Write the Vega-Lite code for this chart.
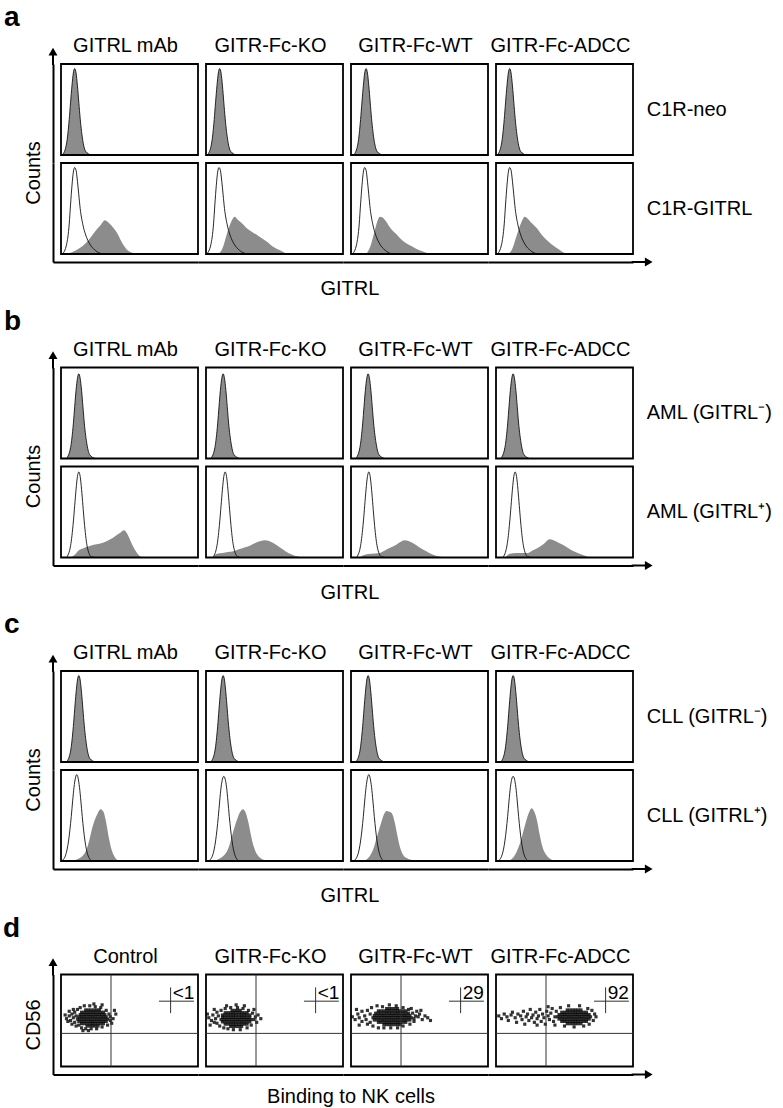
{
"$schema":"https://vega.github.io/schema/vega-lite/v6.json",
"padding":{"left":3,"top":4,"right":0,"bottom":0},
"spacing":7.5,
"config":{
 "font":"Liberation Sans",
 "view":{"stroke":null},
 "axis":{"ticks":false,"labels":false,"grid":false,"domainColor":"black","domainWidth":2,"minExtent":0,"titleFontSize":20,"titleFontWeight":"normal","titleColor":"black"},
 "header":{"labelFontSize":20,"labelColor":"black","titleFontSize":20,"titleFontWeight":"normal","titleColor":"black"},
 "title":{"fontSize":28,"fontWeight":"bold","anchor":"start","color":"black"}
},
"datasets":{
"A":[
{"r":1,"c":4,"s":"l","lab":"C1R-neo"},{"r":2,"c":4,"s":"l","lab":"C1R-GITRL"},{"r":2,"c":2,"s":"t","lab":"GITRL"},
{"r":1,"c":1,"x":1,"y":0},{"r":1,"c":1,"x":4,"y":12},{"r":1,"c":1,"x":6,"y":39},{"r":1,"c":1,"x":7,"y":58},{"r":1,"c":1,"x":8,"y":76},{"r":1,"c":1,"x":9,"y":90},{"r":1,"c":1,"x":10,"y":95},{"r":1,"c":1,"x":11,"y":90},{"r":1,"c":1,"x":12,"y":76},{"r":1,"c":1,"x":13,"y":58},{"r":1,"c":1,"x":14,"y":40},{"r":1,"c":1,"x":16,"y":15},{"r":1,"c":1,"x":18,"y":4},{"r":1,"c":1,"x":22,"y":0},
{"r":1,"c":2,"x":1,"y":0},{"r":1,"c":2,"x":4,"y":12},{"r":1,"c":2,"x":6,"y":39},{"r":1,"c":2,"x":7,"y":58},{"r":1,"c":2,"x":8,"y":76},{"r":1,"c":2,"x":9,"y":90},{"r":1,"c":2,"x":10,"y":95},{"r":1,"c":2,"x":11,"y":90},{"r":1,"c":2,"x":12,"y":76},{"r":1,"c":2,"x":13,"y":58},{"r":1,"c":2,"x":14,"y":40},{"r":1,"c":2,"x":16,"y":15},{"r":1,"c":2,"x":18,"y":4},{"r":1,"c":2,"x":22,"y":0},
{"r":1,"c":3,"x":2,"y":0},{"r":1,"c":3,"x":5,"y":12},{"r":1,"c":3,"x":7,"y":39},{"r":1,"c":3,"x":8,"y":58},{"r":1,"c":3,"x":9,"y":76},{"r":1,"c":3,"x":10,"y":90},{"r":1,"c":3,"x":11,"y":95},{"r":1,"c":3,"x":12,"y":90},{"r":1,"c":3,"x":13,"y":76},{"r":1,"c":3,"x":14,"y":58},{"r":1,"c":3,"x":15,"y":40},{"r":1,"c":3,"x":17,"y":15},{"r":1,"c":3,"x":19,"y":4},{"r":1,"c":3,"x":23,"y":0},
{"r":1,"c":4,"x":1,"y":0},{"r":1,"c":4,"x":4,"y":12},{"r":1,"c":4,"x":6,"y":39},{"r":1,"c":4,"x":7,"y":58},{"r":1,"c":4,"x":8,"y":76},{"r":1,"c":4,"x":9,"y":90},{"r":1,"c":4,"x":10,"y":95},{"r":1,"c":4,"x":11,"y":90},{"r":1,"c":4,"x":12,"y":76},{"r":1,"c":4,"x":13,"y":58},{"r":1,"c":4,"x":14,"y":40},{"r":1,"c":4,"x":16,"y":15},{"r":1,"c":4,"x":18,"y":4},{"r":1,"c":4,"x":22,"y":0},
{"r":2,"c":1,"s":"o","x":1,"y":0},{"r":2,"c":1,"s":"o","x":4,"y":10},{"r":2,"c":1,"s":"o","x":6,"y":33},{"r":2,"c":1,"s":"o","x":7,"y":55},{"r":2,"c":1,"s":"o","x":8,"y":75},{"r":2,"c":1,"s":"o","x":9,"y":90},{"r":2,"c":1,"s":"o","x":10,"y":95},{"r":2,"c":1,"s":"o","x":11,"y":92},{"r":2,"c":1,"s":"o","x":12,"y":80},{"r":2,"c":1,"s":"o","x":13,"y":65},{"r":2,"c":1,"s":"o","x":14,"y":50},{"r":2,"c":1,"s":"o","x":16,"y":32},{"r":2,"c":1,"s":"o","x":18,"y":21},{"r":2,"c":1,"s":"o","x":21,"y":11},{"r":2,"c":1,"s":"o","x":25,"y":4},{"r":2,"c":1,"s":"o","x":30,"y":0},
{"r":2,"c":2,"s":"o","x":0.5,"y":0},{"r":2,"c":2,"s":"o","x":3.5,"y":10},{"r":2,"c":2,"s":"o","x":5.5,"y":33},{"r":2,"c":2,"s":"o","x":6.5,"y":55},{"r":2,"c":2,"s":"o","x":7.5,"y":75},{"r":2,"c":2,"s":"o","x":8.5,"y":90},{"r":2,"c":2,"s":"o","x":9.5,"y":95},{"r":2,"c":2,"s":"o","x":10.5,"y":92},{"r":2,"c":2,"s":"o","x":11.5,"y":80},{"r":2,"c":2,"s":"o","x":12.5,"y":65},{"r":2,"c":2,"s":"o","x":13.5,"y":50},{"r":2,"c":2,"s":"o","x":15.5,"y":32},{"r":2,"c":2,"s":"o","x":17.5,"y":21},{"r":2,"c":2,"s":"o","x":20.5,"y":11},{"r":2,"c":2,"s":"o","x":24.5,"y":4},{"r":2,"c":2,"s":"o","x":29.5,"y":0},
{"r":2,"c":3,"s":"o","x":1,"y":0},{"r":2,"c":3,"s":"o","x":4,"y":10},{"r":2,"c":3,"s":"o","x":6,"y":33},{"r":2,"c":3,"s":"o","x":7,"y":55},{"r":2,"c":3,"s":"o","x":8,"y":75},{"r":2,"c":3,"s":"o","x":9,"y":90},{"r":2,"c":3,"s":"o","x":10,"y":95},{"r":2,"c":3,"s":"o","x":11,"y":92},{"r":2,"c":3,"s":"o","x":12,"y":80},{"r":2,"c":3,"s":"o","x":13,"y":65},{"r":2,"c":3,"s":"o","x":14,"y":50},{"r":2,"c":3,"s":"o","x":16,"y":32},{"r":2,"c":3,"s":"o","x":18,"y":21},{"r":2,"c":3,"s":"o","x":21,"y":11},{"r":2,"c":3,"s":"o","x":25,"y":4},{"r":2,"c":3,"s":"o","x":30,"y":0},
{"r":2,"c":4,"s":"o","x":1,"y":0},{"r":2,"c":4,"s":"o","x":4,"y":10},{"r":2,"c":4,"s":"o","x":6,"y":33},{"r":2,"c":4,"s":"o","x":7,"y":55},{"r":2,"c":4,"s":"o","x":8,"y":75},{"r":2,"c":4,"s":"o","x":9,"y":90},{"r":2,"c":4,"s":"o","x":10,"y":95},{"r":2,"c":4,"s":"o","x":11,"y":92},{"r":2,"c":4,"s":"o","x":12,"y":80},{"r":2,"c":4,"s":"o","x":13,"y":65},{"r":2,"c":4,"s":"o","x":14,"y":50},{"r":2,"c":4,"s":"o","x":16,"y":32},{"r":2,"c":4,"s":"o","x":18,"y":21},{"r":2,"c":4,"s":"o","x":21,"y":11},{"r":2,"c":4,"s":"o","x":25,"y":4},{"r":2,"c":4,"s":"o","x":30,"y":0},
{"r":2,"c":1,"s":"f","x":4,"y":0},{"r":2,"c":1,"s":"f","x":8,"y":2},{"r":2,"c":1,"s":"f","x":12,"y":5},{"r":2,"c":1,"s":"f","x":16,"y":9},{"r":2,"c":1,"s":"f","x":20,"y":15},{"r":2,"c":1,"s":"f","x":23.5,"y":22},{"r":2,"c":1,"s":"f","x":26,"y":27},{"r":2,"c":1,"s":"f","x":29,"y":32},{"r":2,"c":1,"s":"f","x":32,"y":37},{"r":2,"c":1,"s":"f","x":35,"y":34},{"r":2,"c":1,"s":"f","x":38,"y":29},{"r":2,"c":1,"s":"f","x":41,"y":23},{"r":2,"c":1,"s":"f","x":44,"y":14},{"r":2,"c":1,"s":"f","x":48,"y":5},{"r":2,"c":1,"s":"f","x":52,"y":1.5},{"r":2,"c":1,"s":"f","x":56,"y":0},
{"r":2,"c":2,"s":"f","x":9,"y":0},{"r":2,"c":2,"s":"f","x":12,"y":6},{"r":2,"c":2,"s":"f","x":15,"y":21},{"r":2,"c":2,"s":"f","x":18,"y":34},{"r":2,"c":2,"s":"f","x":21,"y":41},{"r":2,"c":2,"s":"f","x":23,"y":38},{"r":2,"c":2,"s":"f","x":26,"y":34},{"r":2,"c":2,"s":"f","x":30,"y":28},{"r":2,"c":2,"s":"f","x":34,"y":24},{"r":2,"c":2,"s":"f","x":38,"y":20},{"r":2,"c":2,"s":"f","x":44,"y":14},{"r":2,"c":2,"s":"f","x":49,"y":8},{"r":2,"c":2,"s":"f","x":54,"y":4},{"r":2,"c":2,"s":"f","x":59,"y":0},
{"r":2,"c":3,"s":"f","x":11,"y":0},{"r":2,"c":3,"s":"f","x":14,"y":8},{"r":2,"c":3,"s":"f","x":17,"y":24},{"r":2,"c":3,"s":"f","x":19,"y":35},{"r":2,"c":3,"s":"f","x":21,"y":41},{"r":2,"c":3,"s":"f","x":23,"y":40},{"r":2,"c":3,"s":"f","x":26,"y":35},{"r":2,"c":3,"s":"f","x":29,"y":28},{"r":2,"c":3,"s":"f","x":33,"y":22},{"r":2,"c":3,"s":"f","x":36,"y":17},{"r":2,"c":3,"s":"f","x":40,"y":12},{"r":2,"c":3,"s":"f","x":45,"y":8},{"r":2,"c":3,"s":"f","x":50,"y":4},{"r":2,"c":3,"s":"f","x":54,"y":2},{"r":2,"c":3,"s":"f","x":58,"y":0},
{"r":2,"c":4,"s":"f","x":9,"y":0},{"r":2,"c":4,"s":"f","x":12,"y":6},{"r":2,"c":4,"s":"f","x":15,"y":20},{"r":2,"c":4,"s":"f","x":18,"y":33},{"r":2,"c":4,"s":"f","x":21,"y":41},{"r":2,"c":4,"s":"f","x":23,"y":39},{"r":2,"c":4,"s":"f","x":26,"y":34},{"r":2,"c":4,"s":"f","x":30,"y":28},{"r":2,"c":4,"s":"f","x":34,"y":20},{"r":2,"c":4,"s":"f","x":38,"y":14},{"r":2,"c":4,"s":"f","x":42,"y":9},{"r":2,"c":4,"s":"f","x":46,"y":5},{"r":2,"c":4,"s":"f","x":49,"y":2},{"r":2,"c":4,"s":"f","x":52,"y":0}
],
"B":[
{"r":1,"c":4,"s":"l","lab":"AML (GITRL⁻)"},{"r":2,"c":4,"s":"l","lab":"AML (GITRL⁺)"},{"r":2,"c":2,"s":"t","lab":"GITRL"},
{"r":1,"c":1,"x":4,"y":0},{"r":1,"c":1,"x":7,"y":12},{"r":1,"c":1,"x":9,"y":38},{"r":1,"c":1,"x":10,"y":57},{"r":1,"c":1,"x":11,"y":75},{"r":1,"c":1,"x":12,"y":88},{"r":1,"c":1,"x":13,"y":93},{"r":1,"c":1,"x":14,"y":88},{"r":1,"c":1,"x":15,"y":75},{"r":1,"c":1,"x":16,"y":57},{"r":1,"c":1,"x":17,"y":39},{"r":1,"c":1,"x":19,"y":15},{"r":1,"c":1,"x":21,"y":4},{"r":1,"c":1,"x":25,"y":0},
{"r":1,"c":2,"x":3.5,"y":0},{"r":1,"c":2,"x":6.5,"y":12},{"r":1,"c":2,"x":8.5,"y":38},{"r":1,"c":2,"x":9.5,"y":57},{"r":1,"c":2,"x":10.5,"y":75},{"r":1,"c":2,"x":11.5,"y":88},{"r":1,"c":2,"x":12.5,"y":93},{"r":1,"c":2,"x":13.5,"y":88},{"r":1,"c":2,"x":14.5,"y":75},{"r":1,"c":2,"x":15.5,"y":57},{"r":1,"c":2,"x":16.5,"y":39},{"r":1,"c":2,"x":18.5,"y":15},{"r":1,"c":2,"x":20.5,"y":4},{"r":1,"c":2,"x":24.5,"y":0},
{"r":1,"c":3,"x":3.5,"y":0},{"r":1,"c":3,"x":6.5,"y":12},{"r":1,"c":3,"x":8.5,"y":38},{"r":1,"c":3,"x":9.5,"y":57},{"r":1,"c":3,"x":10.5,"y":75},{"r":1,"c":3,"x":11.5,"y":88},{"r":1,"c":3,"x":12.5,"y":93},{"r":1,"c":3,"x":13.5,"y":88},{"r":1,"c":3,"x":14.5,"y":75},{"r":1,"c":3,"x":15.5,"y":57},{"r":1,"c":3,"x":16.5,"y":39},{"r":1,"c":3,"x":18.5,"y":15},{"r":1,"c":3,"x":20.5,"y":4},{"r":1,"c":3,"x":24.5,"y":0},
{"r":1,"c":4,"x":3.5,"y":0},{"r":1,"c":4,"x":6.5,"y":12},{"r":1,"c":4,"x":8.5,"y":38},{"r":1,"c":4,"x":9.5,"y":57},{"r":1,"c":4,"x":10.5,"y":75},{"r":1,"c":4,"x":11.5,"y":88},{"r":1,"c":4,"x":12.5,"y":93},{"r":1,"c":4,"x":13.5,"y":88},{"r":1,"c":4,"x":14.5,"y":75},{"r":1,"c":4,"x":15.5,"y":57},{"r":1,"c":4,"x":16.5,"y":39},{"r":1,"c":4,"x":18.5,"y":15},{"r":1,"c":4,"x":20.5,"y":4},{"r":1,"c":4,"x":24.5,"y":0},
{"r":2,"c":1,"s":"o","x":4,"y":0},{"r":2,"c":1,"s":"o","x":7,"y":13},{"r":2,"c":1,"s":"o","x":9,"y":39},{"r":2,"c":1,"s":"o","x":10,"y":57},{"r":2,"c":1,"s":"o","x":11,"y":75},{"r":2,"c":1,"s":"o","x":12,"y":89},{"r":2,"c":1,"s":"o","x":13,"y":94},{"r":2,"c":1,"s":"o","x":14,"y":89},{"r":2,"c":1,"s":"o","x":15,"y":75},{"r":2,"c":1,"s":"o","x":16,"y":57},{"r":2,"c":1,"s":"o","x":17,"y":39},{"r":2,"c":1,"s":"o","x":19,"y":13},{"r":2,"c":1,"s":"o","x":22,"y":1},{"r":2,"c":1,"s":"o","x":25,"y":0},
{"r":2,"c":2,"s":"o","x":5,"y":0},{"r":2,"c":2,"s":"o","x":8,"y":13},{"r":2,"c":2,"s":"o","x":10,"y":39},{"r":2,"c":2,"s":"o","x":11,"y":57},{"r":2,"c":2,"s":"o","x":12,"y":75},{"r":2,"c":2,"s":"o","x":13,"y":89},{"r":2,"c":2,"s":"o","x":14,"y":94},{"r":2,"c":2,"s":"o","x":15,"y":89},{"r":2,"c":2,"s":"o","x":16,"y":75},{"r":2,"c":2,"s":"o","x":17,"y":57},{"r":2,"c":2,"s":"o","x":18,"y":39},{"r":2,"c":2,"s":"o","x":20,"y":13},{"r":2,"c":2,"s":"o","x":23,"y":1},{"r":2,"c":2,"s":"o","x":26,"y":0},
{"r":2,"c":3,"s":"o","x":4,"y":0},{"r":2,"c":3,"s":"o","x":7,"y":13},{"r":2,"c":3,"s":"o","x":9,"y":39},{"r":2,"c":3,"s":"o","x":10,"y":57},{"r":2,"c":3,"s":"o","x":11,"y":75},{"r":2,"c":3,"s":"o","x":12,"y":89},{"r":2,"c":3,"s":"o","x":13,"y":94},{"r":2,"c":3,"s":"o","x":14,"y":89},{"r":2,"c":3,"s":"o","x":15,"y":75},{"r":2,"c":3,"s":"o","x":16,"y":57},{"r":2,"c":3,"s":"o","x":17,"y":39},{"r":2,"c":3,"s":"o","x":19,"y":13},{"r":2,"c":3,"s":"o","x":22,"y":1},{"r":2,"c":3,"s":"o","x":25,"y":0},
{"r":2,"c":4,"s":"o","x":5,"y":0},{"r":2,"c":4,"s":"o","x":8,"y":13},{"r":2,"c":4,"s":"o","x":10,"y":39},{"r":2,"c":4,"s":"o","x":11,"y":57},{"r":2,"c":4,"s":"o","x":12,"y":75},{"r":2,"c":4,"s":"o","x":13,"y":89},{"r":2,"c":4,"s":"o","x":14,"y":94},{"r":2,"c":4,"s":"o","x":15,"y":89},{"r":2,"c":4,"s":"o","x":16,"y":75},{"r":2,"c":4,"s":"o","x":17,"y":57},{"r":2,"c":4,"s":"o","x":18,"y":39},{"r":2,"c":4,"s":"o","x":20,"y":13},{"r":2,"c":4,"s":"o","x":23,"y":1},{"r":2,"c":4,"s":"o","x":26,"y":0},
{"r":2,"c":1,"s":"f","x":7,"y":0},{"r":2,"c":1,"s":"f","x":10,"y":3},{"r":2,"c":1,"s":"f","x":13,"y":8},{"r":2,"c":1,"s":"f","x":16,"y":10},{"r":2,"c":1,"s":"f","x":20,"y":12},{"r":2,"c":1,"s":"f","x":24,"y":14},{"r":2,"c":1,"s":"f","x":28,"y":15},{"r":2,"c":1,"s":"f","x":32,"y":17},{"r":2,"c":1,"s":"f","x":36,"y":20},{"r":2,"c":1,"s":"f","x":40,"y":24},{"r":2,"c":1,"s":"f","x":43,"y":27},{"r":2,"c":1,"s":"f","x":46,"y":30},{"r":2,"c":1,"s":"f","x":48,"y":27},{"r":2,"c":1,"s":"f","x":50,"y":21},{"r":2,"c":1,"s":"f","x":52,"y":14},{"r":2,"c":1,"s":"f","x":55,"y":6},{"r":2,"c":1,"s":"f","x":58,"y":1},{"r":2,"c":1,"s":"f","x":60,"y":0},
{"r":2,"c":2,"s":"f","x":5,"y":0},{"r":2,"c":2,"s":"f","x":8,"y":4},{"r":2,"c":2,"s":"f","x":12,"y":5},{"r":2,"c":2,"s":"f","x":16,"y":6},{"r":2,"c":2,"s":"f","x":20,"y":7},{"r":2,"c":2,"s":"f","x":24,"y":9},{"r":2,"c":2,"s":"f","x":28,"y":11},{"r":2,"c":2,"s":"f","x":32,"y":13},{"r":2,"c":2,"s":"f","x":36,"y":16},{"r":2,"c":2,"s":"f","x":40,"y":18},{"r":2,"c":2,"s":"f","x":43,"y":19},{"r":2,"c":2,"s":"f","x":46,"y":18},{"r":2,"c":2,"s":"f","x":50,"y":15},{"r":2,"c":2,"s":"f","x":54,"y":11},{"r":2,"c":2,"s":"f","x":58,"y":7},{"r":2,"c":2,"s":"f","x":63,"y":3},{"r":2,"c":2,"s":"f","x":70,"y":0},
{"r":2,"c":3,"s":"f","x":6,"y":0},{"r":2,"c":3,"s":"f","x":10,"y":3},{"r":2,"c":3,"s":"f","x":15,"y":4},{"r":2,"c":3,"s":"f","x":21,"y":5},{"r":2,"c":3,"s":"f","x":25,"y":8},{"r":2,"c":3,"s":"f","x":29,"y":11},{"r":2,"c":3,"s":"f","x":33,"y":14},{"r":2,"c":3,"s":"f","x":36,"y":17},{"r":2,"c":3,"s":"f","x":39,"y":19},{"r":2,"c":3,"s":"f","x":42,"y":18},{"r":2,"c":3,"s":"f","x":46,"y":15},{"r":2,"c":3,"s":"f","x":50,"y":11},{"r":2,"c":3,"s":"f","x":55,"y":7},{"r":2,"c":3,"s":"f","x":60,"y":3},{"r":2,"c":3,"s":"f","x":64,"y":1},{"r":2,"c":3,"s":"f","x":69,"y":0},
{"r":2,"c":4,"s":"f","x":7,"y":0},{"r":2,"c":4,"s":"f","x":10,"y":4},{"r":2,"c":4,"s":"f","x":15,"y":5},{"r":2,"c":4,"s":"f","x":20,"y":5},{"r":2,"c":4,"s":"f","x":23,"y":5},{"r":2,"c":4,"s":"f","x":27,"y":8},{"r":2,"c":4,"s":"f","x":31,"y":11},{"r":2,"c":4,"s":"f","x":35,"y":15},{"r":2,"c":4,"s":"f","x":39,"y":20},{"r":2,"c":4,"s":"f","x":42,"y":19},{"r":2,"c":4,"s":"f","x":46,"y":16},{"r":2,"c":4,"s":"f","x":50,"y":13},{"r":2,"c":4,"s":"f","x":54,"y":9},{"r":2,"c":4,"s":"f","x":58,"y":6},{"r":2,"c":4,"s":"f","x":63,"y":3},{"r":2,"c":4,"s":"f","x":69,"y":0}
],
"C":[
{"r":1,"c":4,"s":"l","lab":"CLL (GITRL⁻)"},{"r":2,"c":4,"s":"l","lab":"CLL (GITRL⁺)"},{"r":2,"c":2,"s":"t","lab":"GITRL"},
{"r":1,"c":1,"x":4,"y":0},{"r":1,"c":1,"x":7,"y":12},{"r":1,"c":1,"x":9,"y":39},{"r":1,"c":1,"x":10,"y":58},{"r":1,"c":1,"x":11,"y":76},{"r":1,"c":1,"x":12,"y":90},{"r":1,"c":1,"x":13,"y":95},{"r":1,"c":1,"x":14,"y":90},{"r":1,"c":1,"x":15,"y":76},{"r":1,"c":1,"x":16,"y":58},{"r":1,"c":1,"x":17,"y":40},{"r":1,"c":1,"x":19,"y":15},{"r":1,"c":1,"x":21,"y":4},{"r":1,"c":1,"x":25,"y":0},
{"r":1,"c":2,"x":3.5,"y":0},{"r":1,"c":2,"x":6.5,"y":12},{"r":1,"c":2,"x":8.5,"y":39},{"r":1,"c":2,"x":9.5,"y":58},{"r":1,"c":2,"x":10.5,"y":76},{"r":1,"c":2,"x":11.5,"y":90},{"r":1,"c":2,"x":12.5,"y":95},{"r":1,"c":2,"x":13.5,"y":90},{"r":1,"c":2,"x":14.5,"y":76},{"r":1,"c":2,"x":15.5,"y":58},{"r":1,"c":2,"x":16.5,"y":40},{"r":1,"c":2,"x":18.5,"y":15},{"r":1,"c":2,"x":20.5,"y":4},{"r":1,"c":2,"x":24.5,"y":0},
{"r":1,"c":3,"x":3.5,"y":0},{"r":1,"c":3,"x":6.5,"y":12},{"r":1,"c":3,"x":8.5,"y":39},{"r":1,"c":3,"x":9.5,"y":58},{"r":1,"c":3,"x":10.5,"y":76},{"r":1,"c":3,"x":11.5,"y":90},{"r":1,"c":3,"x":12.5,"y":95},{"r":1,"c":3,"x":13.5,"y":90},{"r":1,"c":3,"x":14.5,"y":76},{"r":1,"c":3,"x":15.5,"y":58},{"r":1,"c":3,"x":16.5,"y":40},{"r":1,"c":3,"x":18.5,"y":15},{"r":1,"c":3,"x":20.5,"y":4},{"r":1,"c":3,"x":24.5,"y":0},
{"r":1,"c":4,"x":3.5,"y":0},{"r":1,"c":4,"x":6.5,"y":12},{"r":1,"c":4,"x":8.5,"y":39},{"r":1,"c":4,"x":9.5,"y":58},{"r":1,"c":4,"x":10.5,"y":76},{"r":1,"c":4,"x":11.5,"y":90},{"r":1,"c":4,"x":12.5,"y":95},{"r":1,"c":4,"x":13.5,"y":90},{"r":1,"c":4,"x":14.5,"y":76},{"r":1,"c":4,"x":15.5,"y":58},{"r":1,"c":4,"x":16.5,"y":40},{"r":1,"c":4,"x":18.5,"y":15},{"r":1,"c":4,"x":20.5,"y":4},{"r":1,"c":4,"x":24.5,"y":0},
{"r":2,"c":1,"s":"o","x":0.5,"y":0},{"r":2,"c":1,"s":"o","x":3.5,"y":7},{"r":2,"c":1,"s":"o","x":5.5,"y":22},{"r":2,"c":1,"s":"o","x":7.5,"y":49},{"r":2,"c":1,"s":"o","x":8.5,"y":66},{"r":2,"c":1,"s":"o","x":9.5,"y":81},{"r":2,"c":1,"s":"o","x":10.5,"y":91},{"r":2,"c":1,"s":"o","x":11.5,"y":95},{"r":2,"c":1,"s":"o","x":12.5,"y":91},{"r":2,"c":1,"s":"o","x":13.5,"y":81},{"r":2,"c":1,"s":"o","x":14.5,"y":66},{"r":2,"c":1,"s":"o","x":15.5,"y":49},{"r":2,"c":1,"s":"o","x":17.5,"y":22},{"r":2,"c":1,"s":"o","x":19.5,"y":7},{"r":2,"c":1,"s":"o","x":22.5,"y":0},
{"r":2,"c":2,"s":"o","x":2,"y":0},{"r":2,"c":2,"s":"o","x":5,"y":7},{"r":2,"c":2,"s":"o","x":7,"y":22},{"r":2,"c":2,"s":"o","x":9,"y":49},{"r":2,"c":2,"s":"o","x":10,"y":66},{"r":2,"c":2,"s":"o","x":11,"y":81},{"r":2,"c":2,"s":"o","x":12,"y":90},{"r":2,"c":2,"s":"o","x":13,"y":93},{"r":2,"c":2,"s":"o","x":14,"y":90},{"r":2,"c":2,"s":"o","x":15,"y":81},{"r":2,"c":2,"s":"o","x":16,"y":66},{"r":2,"c":2,"s":"o","x":17,"y":49},{"r":2,"c":2,"s":"o","x":19,"y":22},{"r":2,"c":2,"s":"o","x":21,"y":7},{"r":2,"c":2,"s":"o","x":24,"y":0},
{"r":2,"c":3,"s":"o","x":2,"y":0},{"r":2,"c":3,"s":"o","x":5,"y":7},{"r":2,"c":3,"s":"o","x":7,"y":22},{"r":2,"c":3,"s":"o","x":9,"y":49},{"r":2,"c":3,"s":"o","x":10,"y":66},{"r":2,"c":3,"s":"o","x":11,"y":81},{"r":2,"c":3,"s":"o","x":12,"y":91},{"r":2,"c":3,"s":"o","x":13,"y":95},{"r":2,"c":3,"s":"o","x":14,"y":91},{"r":2,"c":3,"s":"o","x":15,"y":81},{"r":2,"c":3,"s":"o","x":16,"y":66},{"r":2,"c":3,"s":"o","x":17,"y":49},{"r":2,"c":3,"s":"o","x":19,"y":22},{"r":2,"c":3,"s":"o","x":21,"y":7},{"r":2,"c":3,"s":"o","x":24,"y":0},
{"r":2,"c":4,"s":"o","x":1.5,"y":0},{"r":2,"c":4,"s":"o","x":4.5,"y":7},{"r":2,"c":4,"s":"o","x":6.5,"y":22},{"r":2,"c":4,"s":"o","x":8.5,"y":49},{"r":2,"c":4,"s":"o","x":9.5,"y":66},{"r":2,"c":4,"s":"o","x":10.5,"y":81},{"r":2,"c":4,"s":"o","x":11.5,"y":90},{"r":2,"c":4,"s":"o","x":12.5,"y":93},{"r":2,"c":4,"s":"o","x":13.5,"y":90},{"r":2,"c":4,"s":"o","x":14.5,"y":81},{"r":2,"c":4,"s":"o","x":15.5,"y":66},{"r":2,"c":4,"s":"o","x":16.5,"y":49},{"r":2,"c":4,"s":"o","x":18.5,"y":22},{"r":2,"c":4,"s":"o","x":20.5,"y":7},{"r":2,"c":4,"s":"o","x":23.5,"y":0},
{"r":2,"c":1,"s":"f","x":8,"y":0},{"r":2,"c":1,"s":"f","x":12,"y":2},{"r":2,"c":1,"s":"f","x":16,"y":6},{"r":2,"c":1,"s":"f","x":19,"y":14},{"r":2,"c":1,"s":"f","x":21,"y":25},{"r":2,"c":1,"s":"f","x":23.5,"y":40},{"r":2,"c":1,"s":"f","x":26,"y":50},{"r":2,"c":1,"s":"f","x":29,"y":57},{"r":2,"c":1,"s":"f","x":31,"y":54},{"r":2,"c":1,"s":"f","x":33,"y":42},{"r":2,"c":1,"s":"f","x":35,"y":25},{"r":2,"c":1,"s":"f","x":37,"y":12},{"r":2,"c":1,"s":"f","x":39,"y":5},{"r":2,"c":1,"s":"f","x":42,"y":0},
{"r":2,"c":2,"s":"f","x":5,"y":0},{"r":2,"c":2,"s":"f","x":9,"y":2},{"r":2,"c":2,"s":"f","x":13,"y":6},{"r":2,"c":2,"s":"f","x":16,"y":13},{"r":2,"c":2,"s":"f","x":18,"y":22},{"r":2,"c":2,"s":"f","x":20,"y":33},{"r":2,"c":2,"s":"f","x":23,"y":47},{"r":2,"c":2,"s":"f","x":25,"y":54},{"r":2,"c":2,"s":"f","x":27,"y":57},{"r":2,"c":2,"s":"f","x":29,"y":53},{"r":2,"c":2,"s":"f","x":31,"y":42},{"r":2,"c":2,"s":"f","x":33,"y":27},{"r":2,"c":2,"s":"f","x":35,"y":15},{"r":2,"c":2,"s":"f","x":37,"y":8},{"r":2,"c":2,"s":"f","x":40,"y":3},{"r":2,"c":2,"s":"f","x":43,"y":1},{"r":2,"c":2,"s":"f","x":47,"y":0},
{"r":2,"c":3,"s":"f","x":9,"y":0},{"r":2,"c":3,"s":"f","x":13,"y":4},{"r":2,"c":3,"s":"f","x":16,"y":12},{"r":2,"c":3,"s":"f","x":19,"y":27},{"r":2,"c":3,"s":"f","x":22,"y":42},{"r":2,"c":3,"s":"f","x":24,"y":51},{"r":2,"c":3,"s":"f","x":26,"y":55},{"r":2,"c":3,"s":"f","x":28,"y":54},{"r":2,"c":3,"s":"f","x":30,"y":52},{"r":2,"c":3,"s":"f","x":32,"y":42},{"r":2,"c":3,"s":"f","x":34,"y":27},{"r":2,"c":3,"s":"f","x":36,"y":14},{"r":2,"c":3,"s":"f","x":38,"y":7},{"r":2,"c":3,"s":"f","x":41,"y":3},{"r":2,"c":3,"s":"f","x":45,"y":1},{"r":2,"c":3,"s":"f","x":50,"y":0},
{"r":2,"c":4,"s":"f","x":9,"y":0},{"r":2,"c":4,"s":"f","x":12,"y":3},{"r":2,"c":4,"s":"f","x":15,"y":10},{"r":2,"c":4,"s":"f","x":18,"y":22},{"r":2,"c":4,"s":"f","x":20,"y":33},{"r":2,"c":4,"s":"f","x":22,"y":44},{"r":2,"c":4,"s":"f","x":24,"y":53},{"r":2,"c":4,"s":"f","x":26,"y":58},{"r":2,"c":4,"s":"f","x":28,"y":54},{"r":2,"c":4,"s":"f","x":30,"y":44},{"r":2,"c":4,"s":"f","x":32,"y":28},{"r":2,"c":4,"s":"f","x":34,"y":15},{"r":2,"c":4,"s":"f","x":37,"y":6},{"r":2,"c":4,"s":"f","x":40,"y":2},{"r":2,"c":4,"s":"f","x":43,"y":0}
],
"D":[
{"c":1,"lbl":"<1"},{"c":2,"lbl":"<1"},{"c":3,"lbl":"29"},{"c":4,"lbl":"92"},
{"c":1,"x":19,"y":44},{"c":1,"x":21,"y":44},{"c":1,"x":23,"y":44},{"c":1,"x":25,"y":44},{"c":1,"x":27,"y":44},
{"c":1,"x":15,"y":46.5},{"c":1,"x":17,"y":46.5},{"c":1,"x":19,"y":46.5},{"c":1,"x":21,"y":46.5},{"c":1,"x":23,"y":46.5},{"c":1,"x":25,"y":46.5},{"c":1,"x":27,"y":46.5},{"c":1,"x":29,"y":46.5},{"c":1,"x":31,"y":46.5},
{"c":1,"x":13,"y":49},{"c":1,"x":15,"y":49},{"c":1,"x":17,"y":49},{"c":1,"x":19,"y":49},{"c":1,"x":21,"y":49},{"c":1,"x":23,"y":49},{"c":1,"x":25,"y":49},{"c":1,"x":27,"y":49},{"c":1,"x":29,"y":49},{"c":1,"x":31,"y":49},{"c":1,"x":33,"y":49},
{"c":1,"x":12,"y":51.5},{"c":1,"x":14,"y":51.5},{"c":1,"x":16,"y":51.5},{"c":1,"x":18,"y":51.5},{"c":1,"x":20,"y":51.5},{"c":1,"x":22,"y":51.5},{"c":1,"x":24,"y":51.5},{"c":1,"x":26,"y":51.5},{"c":1,"x":28,"y":51.5},{"c":1,"x":30,"y":51.5},{"c":1,"x":32,"y":51.5},{"c":1,"x":34,"y":51.5},
{"c":1,"x":13,"y":54},{"c":1,"x":15,"y":54},{"c":1,"x":17,"y":54},{"c":1,"x":19,"y":54},{"c":1,"x":21,"y":54},{"c":1,"x":23,"y":54},{"c":1,"x":25,"y":54},{"c":1,"x":27,"y":54},{"c":1,"x":29,"y":54},{"c":1,"x":31,"y":54},{"c":1,"x":33,"y":54},
{"c":1,"x":14,"y":56.5},{"c":1,"x":16,"y":56.5},{"c":1,"x":18,"y":56.5},{"c":1,"x":20,"y":56.5},{"c":1,"x":22,"y":56.5},{"c":1,"x":24,"y":56.5},{"c":1,"x":26,"y":56.5},{"c":1,"x":28,"y":56.5},{"c":1,"x":30,"y":56.5},{"c":1,"x":32,"y":56.5},
{"c":1,"x":15,"y":59},{"c":1,"x":17,"y":59},{"c":1,"x":19,"y":59},{"c":1,"x":21,"y":59},{"c":1,"x":23,"y":59},{"c":1,"x":25,"y":59},{"c":1,"x":27,"y":59},{"c":1,"x":29,"y":59},{"c":1,"x":31,"y":59},
{"c":1,"x":18,"y":61.5},{"c":1,"x":20,"y":61.5},{"c":1,"x":22,"y":61.5},{"c":1,"x":24,"y":61.5},{"c":1,"x":26,"y":61.5},{"c":1,"x":28,"y":61.5},
{"c":1,"x":4,"y":52},{"c":1,"x":6,"y":55},{"c":1,"x":7,"y":50},{"c":1,"x":8,"y":57},{"c":1,"x":9,"y":53},{"c":1,"x":10,"y":48},{"c":1,"x":10,"y":59},{"c":1,"x":11,"y":55},{"c":1,"x":12,"y":62},{"c":1,"x":13,"y":45},{"c":1,"x":14,"y":64},{"c":1,"x":11,"y":44},{"c":1,"x":15,"y":42},{"c":1,"x":17,"y":66},{"c":1,"x":18,"y":41},{"c":1,"x":21,"y":66},{"c":1,"x":22,"y":41},{"c":1,"x":25,"y":65},{"c":1,"x":26,"y":41},{"c":1,"x":29,"y":64},{"c":1,"x":30,"y":43},{"c":1,"x":33,"y":61},{"c":1,"x":34,"y":45},{"c":1,"x":35,"y":57},{"c":1,"x":36,"y":50},{"c":1,"x":36,"y":54},{"c":1,"x":38,"y":52},{"c":1,"x":40,"y":57},{"c":1,"x":6,"y":60},{"c":1,"x":8,"y":46},{"c":1,"x":30,"y":67},{"c":1,"x":20,"y":39},{"c":1,"x":3,"y":56},{"c":1,"x":5,"y":49},{"c":1,"x":9,"y":62},{"c":1,"x":16,"y":39},{"c":1,"x":24,"y":68},{"c":1,"x":37,"y":47},{"c":1,"x":39,"y":61},
{"c":2,"x":18,"y":43.5},{"c":2,"x":20,"y":43.5},{"c":2,"x":22,"y":43.5},{"c":2,"x":24,"y":43.5},{"c":2,"x":26,"y":43.5},
{"c":2,"x":14,"y":46},{"c":2,"x":16,"y":46},{"c":2,"x":18,"y":46},{"c":2,"x":20,"y":46},{"c":2,"x":22,"y":46},{"c":2,"x":24,"y":46},{"c":2,"x":26,"y":46},{"c":2,"x":28,"y":46},{"c":2,"x":30,"y":46},
{"c":2,"x":12,"y":48.5},{"c":2,"x":14,"y":48.5},{"c":2,"x":16,"y":48.5},{"c":2,"x":18,"y":48.5},{"c":2,"x":20,"y":48.5},{"c":2,"x":22,"y":48.5},{"c":2,"x":24,"y":48.5},{"c":2,"x":26,"y":48.5},{"c":2,"x":28,"y":48.5},{"c":2,"x":30,"y":48.5},{"c":2,"x":32,"y":48.5},
{"c":2,"x":11,"y":51},{"c":2,"x":13,"y":51},{"c":2,"x":15,"y":51},{"c":2,"x":17,"y":51},{"c":2,"x":19,"y":51},{"c":2,"x":21,"y":51},{"c":2,"x":23,"y":51},{"c":2,"x":25,"y":51},{"c":2,"x":27,"y":51},{"c":2,"x":29,"y":51},{"c":2,"x":31,"y":51},{"c":2,"x":33,"y":51},
{"c":2,"x":12,"y":53.5},{"c":2,"x":14,"y":53.5},{"c":2,"x":16,"y":53.5},{"c":2,"x":18,"y":53.5},{"c":2,"x":20,"y":53.5},{"c":2,"x":22,"y":53.5},{"c":2,"x":24,"y":53.5},{"c":2,"x":26,"y":53.5},{"c":2,"x":28,"y":53.5},{"c":2,"x":30,"y":53.5},{"c":2,"x":32,"y":53.5},
{"c":2,"x":12,"y":56},{"c":2,"x":14,"y":56},{"c":2,"x":16,"y":56},{"c":2,"x":18,"y":56},{"c":2,"x":20,"y":56},{"c":2,"x":22,"y":56},{"c":2,"x":24,"y":56},{"c":2,"x":26,"y":56},{"c":2,"x":28,"y":56},{"c":2,"x":30,"y":56},{"c":2,"x":32,"y":56},
{"c":2,"x":14,"y":58.5},{"c":2,"x":16,"y":58.5},{"c":2,"x":18,"y":58.5},{"c":2,"x":20,"y":58.5},{"c":2,"x":22,"y":58.5},{"c":2,"x":24,"y":58.5},{"c":2,"x":26,"y":58.5},{"c":2,"x":28,"y":58.5},{"c":2,"x":30,"y":58.5},
{"c":2,"x":19,"y":61},{"c":2,"x":21,"y":61},{"c":2,"x":23,"y":61},{"c":2,"x":25,"y":61},
{"c":2,"x":2,"y":53},{"c":2,"x":4,"y":50},{"c":2,"x":5,"y":56},{"c":2,"x":7,"y":52},{"c":2,"x":8,"y":47},{"c":2,"x":8,"y":59},{"c":2,"x":10,"y":44},{"c":2,"x":9,"y":55},{"c":2,"x":11,"y":61},{"c":2,"x":13,"y":42},{"c":2,"x":14,"y":63},{"c":2,"x":16,"y":41},{"c":2,"x":18,"y":64},{"c":2,"x":20,"y":40},{"c":2,"x":23,"y":64},{"c":2,"x":25,"y":40},{"c":2,"x":27,"y":63},{"c":2,"x":30,"y":42},{"c":2,"x":31,"y":61},{"c":2,"x":33,"y":45},{"c":2,"x":34,"y":58},{"c":2,"x":35,"y":51},{"c":2,"x":36,"y":54},{"c":2,"x":37,"y":48},{"c":2,"x":6,"y":62},{"c":2,"x":3,"y":45},{"c":2,"x":28,"y":66},{"c":2,"x":15,"y":66},{"c":2,"x":38,"y":56},{"c":2,"x":1,"y":57},{"c":2,"x":6,"y":48},{"c":2,"x":22,"y":67},{"c":2,"x":35,"y":62},{"c":2,"x":40,"y":52},
{"c":3,"x":24,"y":45.5},{"c":3,"x":26,"y":45.5},{"c":3,"x":28,"y":45.5},{"c":3,"x":30,"y":45.5},{"c":3,"x":32,"y":45.5},{"c":3,"x":34,"y":45.5},{"c":3,"x":36,"y":45.5},
{"c":3,"x":20,"y":48},{"c":3,"x":22,"y":48},{"c":3,"x":24,"y":48},{"c":3,"x":26,"y":48},{"c":3,"x":28,"y":48},{"c":3,"x":30,"y":48},{"c":3,"x":32,"y":48},{"c":3,"x":34,"y":48},{"c":3,"x":36,"y":48},{"c":3,"x":38,"y":48},{"c":3,"x":40,"y":48},
{"c":3,"x":17,"y":50.5},{"c":3,"x":19,"y":50.5},{"c":3,"x":21,"y":50.5},{"c":3,"x":23,"y":50.5},{"c":3,"x":25,"y":50.5},{"c":3,"x":27,"y":50.5},{"c":3,"x":29,"y":50.5},{"c":3,"x":31,"y":50.5},{"c":3,"x":33,"y":50.5},{"c":3,"x":35,"y":50.5},{"c":3,"x":37,"y":50.5},{"c":3,"x":39,"y":50.5},{"c":3,"x":41,"y":50.5},{"c":3,"x":43,"y":50.5},
{"c":3,"x":16,"y":53},{"c":3,"x":18,"y":53},{"c":3,"x":20,"y":53},{"c":3,"x":22,"y":53},{"c":3,"x":24,"y":53},{"c":3,"x":26,"y":53},{"c":3,"x":28,"y":53},{"c":3,"x":30,"y":53},{"c":3,"x":32,"y":53},{"c":3,"x":34,"y":53},{"c":3,"x":36,"y":53},{"c":3,"x":38,"y":53},{"c":3,"x":40,"y":53},{"c":3,"x":42,"y":53},{"c":3,"x":44,"y":53},
{"c":3,"x":17,"y":55.5},{"c":3,"x":19,"y":55.5},{"c":3,"x":21,"y":55.5},{"c":3,"x":23,"y":55.5},{"c":3,"x":25,"y":55.5},{"c":3,"x":27,"y":55.5},{"c":3,"x":29,"y":55.5},{"c":3,"x":31,"y":55.5},{"c":3,"x":33,"y":55.5},{"c":3,"x":35,"y":55.5},{"c":3,"x":37,"y":55.5},{"c":3,"x":39,"y":55.5},{"c":3,"x":41,"y":55.5},{"c":3,"x":43,"y":55.5},
{"c":3,"x":18,"y":58},{"c":3,"x":20,"y":58},{"c":3,"x":22,"y":58},{"c":3,"x":24,"y":58},{"c":3,"x":26,"y":58},{"c":3,"x":28,"y":58},{"c":3,"x":30,"y":58},{"c":3,"x":32,"y":58},{"c":3,"x":34,"y":58},{"c":3,"x":36,"y":58},{"c":3,"x":38,"y":58},{"c":3,"x":40,"y":58},{"c":3,"x":42,"y":58},
{"c":3,"x":20,"y":60.5},{"c":3,"x":22,"y":60.5},{"c":3,"x":24,"y":60.5},{"c":3,"x":26,"y":60.5},{"c":3,"x":28,"y":60.5},{"c":3,"x":30,"y":60.5},{"c":3,"x":32,"y":60.5},{"c":3,"x":34,"y":60.5},{"c":3,"x":36,"y":60.5},{"c":3,"x":38,"y":60.5},{"c":3,"x":40,"y":60.5},
{"c":3,"x":26,"y":63},{"c":3,"x":28,"y":63},{"c":3,"x":30,"y":63},{"c":3,"x":32,"y":63},{"c":3,"x":34,"y":63},
{"c":3,"x":1,"y":54},{"c":3,"x":3,"y":51},{"c":3,"x":5,"y":57},{"c":3,"x":6,"y":53},{"c":3,"x":8,"y":49},{"c":3,"x":8,"y":60},{"c":3,"x":10,"y":55},{"c":3,"x":11,"y":51},{"c":3,"x":12,"y":46},{"c":3,"x":12,"y":61},{"c":3,"x":14,"y":57},{"c":3,"x":14,"y":48},{"c":3,"x":15,"y":64},{"c":3,"x":16,"y":44},{"c":3,"x":19,"y":66},{"c":3,"x":20,"y":42},{"c":3,"x":23,"y":65},{"c":3,"x":24,"y":42},{"c":3,"x":28,"y":67},{"c":3,"x":29,"y":42},{"c":3,"x":33,"y":66},{"c":3,"x":34,"y":42},{"c":3,"x":38,"y":64},{"c":3,"x":38,"y":44},{"c":3,"x":42,"y":62},{"c":3,"x":43,"y":46},{"c":3,"x":45,"y":58},{"c":3,"x":46,"y":52},{"c":3,"x":47,"y":55},{"c":3,"x":46,"y":49},{"c":3,"x":48,"y":60},{"c":3,"x":49,"y":54},{"c":3,"x":50,"y":57},{"c":3,"x":52,"y":51},{"c":3,"x":54,"y":55},{"c":3,"x":56,"y":53},{"c":3,"x":44,"y":63},{"c":3,"x":6,"y":45},{"c":3,"x":58,"y":50},{"c":3,"x":51,"y":61},{"c":3,"x":4,"y":62},
{"c":4,"x":52,"y":46.5},{"c":4,"x":54,"y":46.5},{"c":4,"x":56,"y":46.5},{"c":4,"x":58,"y":46.5},{"c":4,"x":60,"y":46.5},{"c":4,"x":62,"y":46.5},
{"c":4,"x":48,"y":49},{"c":4,"x":50,"y":49},{"c":4,"x":52,"y":49},{"c":4,"x":54,"y":49},{"c":4,"x":56,"y":49},{"c":4,"x":58,"y":49},{"c":4,"x":60,"y":49},{"c":4,"x":62,"y":49},{"c":4,"x":64,"y":49},{"c":4,"x":66,"y":49},
{"c":4,"x":46,"y":51.5},{"c":4,"x":48,"y":51.5},{"c":4,"x":50,"y":51.5},{"c":4,"x":52,"y":51.5},{"c":4,"x":54,"y":51.5},{"c":4,"x":56,"y":51.5},{"c":4,"x":58,"y":51.5},{"c":4,"x":60,"y":51.5},{"c":4,"x":62,"y":51.5},{"c":4,"x":64,"y":51.5},{"c":4,"x":66,"y":51.5},{"c":4,"x":68,"y":51.5},
{"c":4,"x":45,"y":54},{"c":4,"x":47,"y":54},{"c":4,"x":49,"y":54},{"c":4,"x":51,"y":54},{"c":4,"x":53,"y":54},{"c":4,"x":55,"y":54},{"c":4,"x":57,"y":54},{"c":4,"x":59,"y":54},{"c":4,"x":61,"y":54},{"c":4,"x":63,"y":54},{"c":4,"x":65,"y":54},{"c":4,"x":67,"y":54},{"c":4,"x":69,"y":54},
{"c":4,"x":46,"y":56.5},{"c":4,"x":48,"y":56.5},{"c":4,"x":50,"y":56.5},{"c":4,"x":52,"y":56.5},{"c":4,"x":54,"y":56.5},{"c":4,"x":56,"y":56.5},{"c":4,"x":58,"y":56.5},{"c":4,"x":60,"y":56.5},{"c":4,"x":62,"y":56.5},{"c":4,"x":64,"y":56.5},{"c":4,"x":66,"y":56.5},{"c":4,"x":68,"y":56.5},
{"c":4,"x":48,"y":59},{"c":4,"x":50,"y":59},{"c":4,"x":52,"y":59},{"c":4,"x":54,"y":59},{"c":4,"x":56,"y":59},{"c":4,"x":58,"y":59},{"c":4,"x":60,"y":59},{"c":4,"x":62,"y":59},{"c":4,"x":64,"y":59},{"c":4,"x":66,"y":59},
{"c":4,"x":52,"y":61.5},{"c":4,"x":54,"y":61.5},{"c":4,"x":56,"y":61.5},{"c":4,"x":58,"y":61.5},{"c":4,"x":60,"y":61.5},{"c":4,"x":62,"y":61.5},
{"c":4,"x":2,"y":55},{"c":4,"x":4,"y":52},{"c":4,"x":6,"y":57},{"c":4,"x":8,"y":54},{"c":4,"x":9,"y":50},{"c":4,"x":11,"y":56},{"c":4,"x":12,"y":59},{"c":4,"x":14,"y":53},{"c":4,"x":15,"y":48},{"c":4,"x":16,"y":57},{"c":4,"x":18,"y":55},{"c":4,"x":19,"y":51},{"c":4,"x":20,"y":60},{"c":4,"x":21,"y":46},{"c":4,"x":22,"y":54},{"c":4,"x":23,"y":57},{"c":4,"x":24,"y":50},{"c":4,"x":25,"y":62},{"c":4,"x":26,"y":53},{"c":4,"x":27,"y":56},{"c":4,"x":28,"y":48},{"c":4,"x":29,"y":59},{"c":4,"x":30,"y":52},{"c":4,"x":31,"y":55},{"c":4,"x":32,"y":62},{"c":4,"x":33,"y":49},{"c":4,"x":34,"y":57},{"c":4,"x":35,"y":53},{"c":4,"x":36,"y":46},{"c":4,"x":37,"y":60},{"c":4,"x":38,"y":55},{"c":4,"x":39,"y":51},{"c":4,"x":40,"y":58},{"c":4,"x":41,"y":63},{"c":4,"x":42,"y":49},{"c":4,"x":43,"y":54},{"c":4,"x":43,"y":45},{"c":4,"x":44,"y":60},{"c":4,"x":47,"y":64},{"c":4,"x":50,"y":44},{"c":4,"x":53,"y":66},{"c":4,"x":57,"y":43},{"c":4,"x":61,"y":66},{"c":4,"x":64,"y":44},{"c":4,"x":67,"y":63},{"c":4,"x":71,"y":50},{"c":4,"x":72,"y":57},{"c":4,"x":73,"y":54},{"c":4,"x":70,"y":61},{"c":4,"x":30,"y":45},{"c":4,"x":38,"y":65},{"c":4,"x":68,"y":46}
]
},
"vconcat":[
{
 "title":{"text":"a","dx":-20},
 "data":{"name":"A"},
 "bounds":"flush",
 "facet":{
  "row":{"field":"r","type":"ordinal","header":{"labels":false,"title":"Counts","titleOrient":"left","titleAngle":-90,"titlePadding":-21}},
  "column":{"field":"c","type":"ordinal","header":{"labelExpr":"['GITRL mAb','GITR-Fc-KO','GITR-Fc-WT','GITR-Fc-ADCC'][datum.value-1]","labelOrient":"top","labelPadding":8,"title":null}}
 },
 "spacing":{"row":0,"column":0},
 "spec":{"width":145,"height":99,"layer":[
  {"transform":[{"filter":"(datum.r==1 && datum.s!='l') || datum.s=='f'"}],"mark":{"type":"area","interpolate":"monotone","color":"#8c8c8c"},"encoding":{"x":{"field":"x","type":"quantitative","title":null,"scale":{"domain":[-5.84,100],"nice":false,"zero":false}},"y":{"field":"y","type":"quantitative","title":null,"scale":{"domain":[-8.79,100],"nice":false,"zero":false}},"y2":{"datum":0}}},
  {"transform":[{"filter":"(datum.r==1 && datum.s!='l') || datum.s=='o'"}],"mark":{"type":"line","interpolate":"monotone","color":"#111111","strokeWidth":0.9},"encoding":{"x":{"field":"x","type":"quantitative","title":null},"y":{"field":"y","type":"quantitative","title":null}}},
  {"transform":[{"aggregate":[{"op":"count","as":"n"}],"groupby":["r","c"]}],"mark":{"type":"rect","filled":false,"stroke":"black","strokeWidth":1.8},"encoding":{"x":{"datum":0},"x2":{"datum":100},"y":{"datum":0},"y2":{"datum":100}}},
  {"transform":[{"filter":"datum.s=='l'"}],"mark":{"type":"text","align":"left","baseline":"middle","fontSize":20,"color":"black","clip":false},"encoding":{"x":{"datum":110},"y":{"datum":50},"text":{"field":"lab"}}},
  {"transform":[{"filter":"datum.s=='t'"}],"mark":{"type":"text","align":"center","baseline":"middle","fontSize":20,"color":"black","clip":false},"encoding":{"x":{"datum":105},"y":{"datum":-38.5},"text":{"field":"lab"}}},
  {"transform":[{"filter":"datum.r==1 && datum.c==1"},{"aggregate":[{"op":"count","as":"n"}],"groupby":["r","c"]}],"mark":{"type":"rule","color":"black","strokeWidth":2,"clip":false},"encoding":{"x":{"datum":-5.84},"y":{"datum":99},"y2":{"datum":110}}},
  {"transform":[{"filter":"datum.r==1 && datum.c==1"},{"aggregate":[{"op":"count","as":"n"}],"groupby":["r","c"]}],"mark":{"type":"point","shape":"triangle-up","filled":true,"size":80,"color":"black","opacity":1,"clip":false},"encoding":{"x":{"datum":-5.84},"y":{"datum":113.5}}},
  {"transform":[{"filter":"datum.r==2 && datum.c==4"},{"aggregate":[{"op":"count","as":"n"}],"groupby":["r","c"]}],"mark":{"type":"rule","color":"black","strokeWidth":2,"clip":false},"encoding":{"x":{"datum":99},"x2":{"datum":110},"y":{"datum":-8.79}}},
  {"transform":[{"filter":"datum.r==2 && datum.c==4"},{"aggregate":[{"op":"count","as":"n"}],"groupby":["r","c"]}],"mark":{"type":"point","shape":"triangle-right","filled":true,"size":80,"color":"black","opacity":1,"clip":false},"encoding":{"x":{"datum":111.5},"y":{"datum":-8.79}}}
 ]}
},
{
 "title":{"text":"b","dx":-20},
 "data":{"name":"B"},
 "bounds":"flush",
 "facet":{
  "row":{"field":"r","type":"ordinal","header":{"labels":false,"title":"Counts","titleOrient":"left","titleAngle":-90,"titlePadding":-21}},
  "column":{"field":"c","type":"ordinal","header":{"labelExpr":"['GITRL mAb','GITR-Fc-KO','GITR-Fc-WT','GITR-Fc-ADCC'][datum.value-1]","labelOrient":"top","labelPadding":8,"title":null}}
 },
 "spacing":{"row":0,"column":0},
 "spec":{"width":145,"height":99,"layer":[
  {"transform":[{"filter":"(datum.r==1 && datum.s!='l') || datum.s=='f'"}],"mark":{"type":"area","interpolate":"monotone","color":"#8c8c8c"},"encoding":{"x":{"field":"x","type":"quantitative","title":null,"scale":{"domain":[-5.84,100],"nice":false,"zero":false}},"y":{"field":"y","type":"quantitative","title":null,"scale":{"domain":[-8.79,100],"nice":false,"zero":false}},"y2":{"datum":0}}},
  {"transform":[{"filter":"(datum.r==1 && datum.s!='l') || datum.s=='o'"}],"mark":{"type":"line","interpolate":"monotone","color":"#111111","strokeWidth":0.9},"encoding":{"x":{"field":"x","type":"quantitative","title":null},"y":{"field":"y","type":"quantitative","title":null}}},
  {"transform":[{"aggregate":[{"op":"count","as":"n"}],"groupby":["r","c"]}],"mark":{"type":"rect","filled":false,"stroke":"black","strokeWidth":1.8},"encoding":{"x":{"datum":0},"x2":{"datum":100},"y":{"datum":0},"y2":{"datum":100}}},
  {"transform":[{"filter":"datum.s=='l'"}],"mark":{"type":"text","align":"left","baseline":"middle","fontSize":20,"color":"black","clip":false},"encoding":{"x":{"datum":110},"y":{"datum":50},"text":{"field":"lab"}}},
  {"transform":[{"filter":"datum.s=='t'"}],"mark":{"type":"text","align":"center","baseline":"middle","fontSize":20,"color":"black","clip":false},"encoding":{"x":{"datum":105},"y":{"datum":-38.5},"text":{"field":"lab"}}},
  {"transform":[{"filter":"datum.r==1 && datum.c==1"},{"aggregate":[{"op":"count","as":"n"}],"groupby":["r","c"]}],"mark":{"type":"rule","color":"black","strokeWidth":2,"clip":false},"encoding":{"x":{"datum":-5.84},"y":{"datum":99},"y2":{"datum":110}}},
  {"transform":[{"filter":"datum.r==1 && datum.c==1"},{"aggregate":[{"op":"count","as":"n"}],"groupby":["r","c"]}],"mark":{"type":"point","shape":"triangle-up","filled":true,"size":80,"color":"black","opacity":1,"clip":false},"encoding":{"x":{"datum":-5.84},"y":{"datum":113.5}}},
  {"transform":[{"filter":"datum.r==2 && datum.c==4"},{"aggregate":[{"op":"count","as":"n"}],"groupby":["r","c"]}],"mark":{"type":"rule","color":"black","strokeWidth":2,"clip":false},"encoding":{"x":{"datum":99},"x2":{"datum":110},"y":{"datum":-8.79}}},
  {"transform":[{"filter":"datum.r==2 && datum.c==4"},{"aggregate":[{"op":"count","as":"n"}],"groupby":["r","c"]}],"mark":{"type":"point","shape":"triangle-right","filled":true,"size":80,"color":"black","opacity":1,"clip":false},"encoding":{"x":{"datum":111.5},"y":{"datum":-8.79}}}
 ]}
},
{
 "title":{"text":"c","dx":-20},
 "data":{"name":"C"},
 "bounds":"flush",
 "facet":{
  "row":{"field":"r","type":"ordinal","header":{"labels":false,"title":"Counts","titleOrient":"left","titleAngle":-90,"titlePadding":-21}},
  "column":{"field":"c","type":"ordinal","header":{"labelExpr":"['GITRL mAb','GITR-Fc-KO','GITR-Fc-WT','GITR-Fc-ADCC'][datum.value-1]","labelOrient":"top","labelPadding":8,"title":null}}
 },
 "spacing":{"row":0,"column":0},
 "spec":{"width":145,"height":99,"layer":[
  {"transform":[{"filter":"(datum.r==1 && datum.s!='l') || datum.s=='f'"}],"mark":{"type":"area","interpolate":"monotone","color":"#8c8c8c"},"encoding":{"x":{"field":"x","type":"quantitative","title":null,"scale":{"domain":[-5.84,100],"nice":false,"zero":false}},"y":{"field":"y","type":"quantitative","title":null,"scale":{"domain":[-8.79,100],"nice":false,"zero":false}},"y2":{"datum":0}}},
  {"transform":[{"filter":"(datum.r==1 && datum.s!='l') || datum.s=='o'"}],"mark":{"type":"line","interpolate":"monotone","color":"#111111","strokeWidth":0.9},"encoding":{"x":{"field":"x","type":"quantitative","title":null},"y":{"field":"y","type":"quantitative","title":null}}},
  {"transform":[{"aggregate":[{"op":"count","as":"n"}],"groupby":["r","c"]}],"mark":{"type":"rect","filled":false,"stroke":"black","strokeWidth":1.8},"encoding":{"x":{"datum":0},"x2":{"datum":100},"y":{"datum":0},"y2":{"datum":100}}},
  {"transform":[{"filter":"datum.s=='l'"}],"mark":{"type":"text","align":"left","baseline":"middle","fontSize":20,"color":"black","clip":false},"encoding":{"x":{"datum":110},"y":{"datum":50},"text":{"field":"lab"}}},
  {"transform":[{"filter":"datum.s=='t'"}],"mark":{"type":"text","align":"center","baseline":"middle","fontSize":20,"color":"black","clip":false},"encoding":{"x":{"datum":105},"y":{"datum":-38.5},"text":{"field":"lab"}}},
  {"transform":[{"filter":"datum.r==1 && datum.c==1"},{"aggregate":[{"op":"count","as":"n"}],"groupby":["r","c"]}],"mark":{"type":"rule","color":"black","strokeWidth":2,"clip":false},"encoding":{"x":{"datum":-5.84},"y":{"datum":99},"y2":{"datum":110}}},
  {"transform":[{"filter":"datum.r==1 && datum.c==1"},{"aggregate":[{"op":"count","as":"n"}],"groupby":["r","c"]}],"mark":{"type":"point","shape":"triangle-up","filled":true,"size":80,"color":"black","opacity":1,"clip":false},"encoding":{"x":{"datum":-5.84},"y":{"datum":113.5}}},
  {"transform":[{"filter":"datum.r==2 && datum.c==4"},{"aggregate":[{"op":"count","as":"n"}],"groupby":["r","c"]}],"mark":{"type":"rule","color":"black","strokeWidth":2,"clip":false},"encoding":{"x":{"datum":99},"x2":{"datum":110},"y":{"datum":-8.79}}},
  {"transform":[{"filter":"datum.r==2 && datum.c==4"},{"aggregate":[{"op":"count","as":"n"}],"groupby":["r","c"]}],"mark":{"type":"point","shape":"triangle-right","filled":true,"size":80,"color":"black","opacity":1,"clip":false},"encoding":{"x":{"datum":111.5},"y":{"datum":-8.79}}}
 ]}
},
{
 "title":{"text":"d","dx":-20},
 "data":{"name":"D"},
 "bounds":"flush",
 "facet":{
  "column":{"field":"c","type":"ordinal","header":{"labelExpr":"['Control','GITR-Fc-KO','GITR-Fc-WT','GITR-Fc-ADCC'][datum.value-1]","labelOrient":"top","labelPadding":8,"title":"Binding to NK cells","titleOrient":"bottom","titlePadding":2}}
 },
 "spacing":{"column":0},
 "spec":{"width":145,"height":100,"layer":[
  {"transform":[{"filter":"!isString(datum.lbl)"}],"mark":{"type":"square","size":10,"color":"black","opacity":0.8},"encoding":{"x":{"field":"x","type":"quantitative","title":null,"scale":{"domain":[-5.84,100],"nice":false,"zero":false}},"y":{"field":"y","type":"quantitative","title":"CD56","scale":{"domain":[-8.7,100],"nice":false,"zero":false},"axis":{"titlePadding":10}}}},
  {"transform":[{"filter":"isString(datum.lbl)"}],"mark":{"type":"rect","filled":false,"stroke":"black","strokeWidth":1.8},"encoding":{"x":{"datum":0},"x2":{"datum":100},"y":{"datum":0},"y2":{"datum":100}}},
  {"transform":[{"filter":"isString(datum.lbl)"}],"mark":{"type":"rule","color":"#333333","strokeWidth":1},"encoding":{"x":{"datum":36.5},"y":{"datum":0},"y2":{"datum":100}}},
  {"transform":[{"filter":"isString(datum.lbl)"}],"mark":{"type":"rule","color":"#333333","strokeWidth":1},"encoding":{"y":{"datum":36},"x":{"datum":0},"x2":{"datum":100}}},
  {"transform":[{"filter":"isString(datum.lbl)"}],"mark":{"type":"rule","color":"#333333","strokeWidth":1},"encoding":{"x":{"datum":80},"y":{"datum":58},"y2":{"datum":86}}},
  {"transform":[{"filter":"isString(datum.lbl)"}],"mark":{"type":"rule","color":"#333333","strokeWidth":1},"encoding":{"y":{"datum":71},"x":{"datum":71.5},"x2":{"datum":97}}},
  {"transform":[{"filter":"isString(datum.lbl)"}],"mark":{"type":"text","align":"left","baseline":"middle","fontSize":19,"color":"black"},"encoding":{"x":{"datum":81.5},"y":{"datum":80},"text":{"field":"lbl"}}},
  {"transform":[{"filter":"isString(datum.lbl) && datum.c==1"}],"mark":{"type":"rule","color":"black","strokeWidth":2,"clip":false},"encoding":{"x":{"datum":-5.84},"y":{"datum":99},"y2":{"datum":110}}},
  {"transform":[{"filter":"isString(datum.lbl) && datum.c==1"}],"mark":{"type":"point","shape":"triangle-up","filled":true,"size":80,"color":"black","opacity":1,"clip":false},"encoding":{"x":{"datum":-5.84},"y":{"datum":113.5}}},
  {"transform":[{"filter":"isString(datum.lbl) && datum.c==4"}],"mark":{"type":"rule","color":"black","strokeWidth":2,"clip":false},"encoding":{"x":{"datum":99},"x2":{"datum":110},"y":{"datum":-8.7}}},
  {"transform":[{"filter":"isString(datum.lbl) && datum.c==4"}],"mark":{"type":"point","shape":"triangle-right","filled":true,"size":80,"color":"black","opacity":1,"clip":false},"encoding":{"x":{"datum":111.5},"y":{"datum":-8.7}}}
 ]}
}
]
}
